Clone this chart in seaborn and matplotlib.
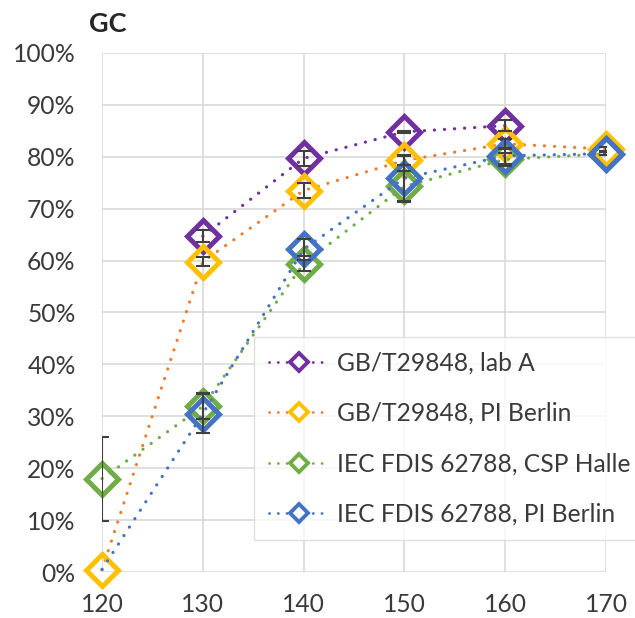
import numpy as np
import pandas as pd
import seaborn as sns
import matplotlib
matplotlib.use("Agg")
import matplotlib.pyplot as plt
from matplotlib.lines import Line2D
from matplotlib.ticker import PercentFormatter, MultipleLocator

# Temperature steps (x axis)
temps = [120, 130, 140, 150, 160, 170]

series_names = [
    "GB/T29848, lab A",
    "GB/T29848, PI Berlin",
    "IEC FDIS 62788, CSP Halle",
    "IEC FDIS 62788, PI Berlin",
]

# GC values (fraction) per series; NaN where no measurement
gc_lab_a = [np.nan, 0.647, 0.797, 0.848, 0.860, np.nan]
gc_gb_pib = [0.004, 0.598, 0.735, 0.793, 0.825, 0.815]
gc_csp = [0.180, 0.319, 0.594, 0.743, 0.795, 0.806]
gc_iec_pib = [0.005, 0.305, 0.622, 0.759, 0.802, 0.806]

# Error bar half-widths
err_lab_a = [0.0, 0.012, 0.014, 0.002, 0.010, 0.0]
err_gb_pib = [0.0, 0.009, 0.015, 0.008, 0.010, 0.003]
err_csp = [0.081, 0.025, 0.015, 0.030, 0.012, 0.003]
err_iec_pib = [0.0, 0.038, 0.020, 0.045, 0.015, 0.003]

values = [gc_lab_a, gc_gb_pib, gc_csp, gc_iec_pib]
errors = [err_lab_a, err_gb_pib, err_csp, err_iec_pib]

line_colors = ["#7030A0", "#ED7D31", "#70AD47", "#4472C4"]
marker_colors = ["#7030A0", "#FFC000", "#70AD47", "#4472C4"]

sns.set_theme(style="white")
plt.rcParams["font.family"] = ["Lato", "DejaVu Sans"]

fig = plt.figure(figsize=(6.35, 6.18), dpi=100)
ax = fig.add_axes([102 / 635, 1 - 572 / 618, 504 / 635, 519 / 618])

dotted = (0, (0.05, 3.1))
for i, (name, vals) in enumerate(zip(series_names, values)):
    df = pd.DataFrame({"temp": temps, "gc": vals}).dropna()
    markevery = slice(1, None) if i == 3 else None
    sns.lineplot(
        data=df, x="temp", y="gc", ax=ax, color=line_colors[i],
        linewidth=2.3, linestyle=dotted, dash_capstyle="round",
        marker="D", markersize=16, markerfacecolor="none",
        markeredgecolor=marker_colors[i], markeredgewidth=3.6,
        markevery=markevery, clip_on=False, zorder=3 + i,
        estimator=None, errorbar=None, legend=False,
    )

for i, (vals, errs) in enumerate(zip(values, errors)):
    v = np.array(vals, dtype=float)
    e = np.array(errs, dtype=float)
    mask = ~np.isnan(v) & (e > 0)
    ax.errorbar(np.array(temps)[mask], v[mask], yerr=e[mask], fmt="none",
                ecolor="#404040", elinewidth=1.5, capsize=5, capthick=1.5,
                zorder=10)

ax.set_xlim(120, 170)
ax.set_ylim(0, 1)
ax.xaxis.set_major_locator(MultipleLocator(10))
ax.yaxis.set_major_locator(MultipleLocator(0.1))
ax.yaxis.set_major_formatter(PercentFormatter(1.0, decimals=0))
ax.grid(True, color="#D9D9D9", linewidth=1.2)
for s in ax.spines.values():
    s.set_visible(False)
ax.tick_params(axis="both", length=0, labelsize=17.7, colors="#3a3a3a")
ax.tick_params(axis="x", pad=15)
ax.tick_params(axis="y", pad=19)
ax.set_xlabel("")
ax.set_ylabel("")

fig.text(89 / 635, 1 - 24 / 618, "GC", fontsize=19.5, fontweight="bold",
         color="#262626", va="center", ha="left")

handles = [
    Line2D([0], [0], color=line_colors[i], linewidth=2.0, linestyle=dotted,
           dash_capstyle="round", marker="D", markersize=9.5,
           markerfacecolor="white", markeredgecolor=marker_colors[i],
           markeredgewidth=2.8)
    for i in range(4)
]
leg = fig.legend(
    handles, series_names, loc="upper left",
    bbox_to_anchor=(254 / 635, 1 - 337 / 618), borderaxespad=0,
    fontsize=17.7, frameon=True, fancybox=False, handlelength=2.45,
    handletextpad=0.33, labelspacing=1.11, borderpad=0.6,
    labelcolor="#3a3a3a",
)
leg.get_frame().set_edgecolor("#D9D9D9")
leg.get_frame().set_linewidth(1.0)
leg.set_zorder(20)

fig.savefig("out.png", dpi=100)
